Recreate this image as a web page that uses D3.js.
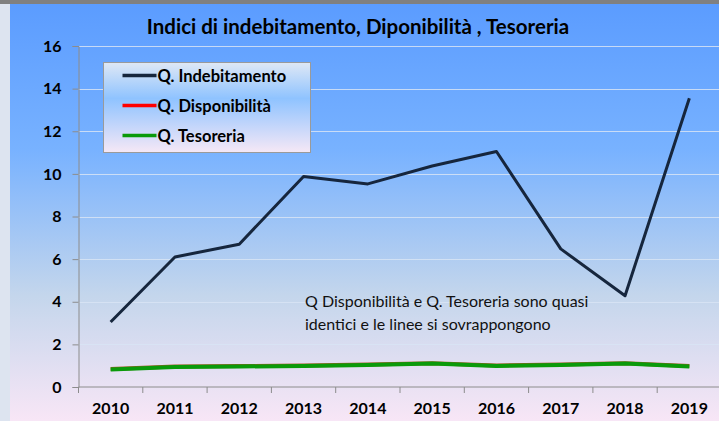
<!DOCTYPE html>
<html>
<head>
<meta charset="utf-8">
<script src="https://d3js.org/d3.v7.min.js"></script>
<style>
  body { margin: 0; background: #dde4f0; }
  svg { display: block; }
  text { font-family: Lato, "Noto Sans", sans-serif; }
</style>
</head>
<body>
<script>

var years = ["2010","2011","2012","2013","2014","2015","2016","2017","2018","2019"];
var indebitamento = [3.05, 6.1, 6.7, 9.88, 9.53, 10.37, 11.05, 6.48, 4.28, 13.55];
var disponibilita = [0.84, 0.96, 0.98, 1.01, 1.05, 1.12, 1.01, 1.05, 1.12, 0.98];
var tesoreria     = [0.82, 0.94, 0.96, 0.99, 1.03, 1.10, 0.99, 1.03, 1.10, 0.96];
var yTicks = [0, 2, 4, 6, 8, 10, 12, 14, 16];

var seriesNames  = ["Q. Indebitamento", "Q. Disponibilità", "Q. Tesoreria"];
var seriesColors = ["#16263d", "#ff0000", "#0a9a0a"];

var W = 719, H = 421;

var svg = d3.select("body").append("svg")
    .attr("width", W)
    .attr("height", H);

var defs = svg.append("defs");

var bg = defs.append("linearGradient")
    .attr("id", "bg").attr("x1", 0).attr("y1", 0).attr("x2", 0).attr("y2", 1);
bg.append("stop").attr("offset", "0%").attr("stop-color", "#5b9cff");
bg.append("stop").attr("offset", "35%").attr("stop-color", "#78b2ff");
bg.append("stop").attr("offset", "70%").attr("stop-color", "#c4d6ec");
bg.append("stop").attr("offset", "100%").attr("stop-color", "#f8e6f6");

var lg = defs.append("linearGradient")
    .attr("id", "lg").attr("x1", 0).attr("y1", 0).attr("x2", 0).attr("y2", 1);
lg.append("stop").attr("offset", "0%").attr("stop-color", "#dfe8f5");
lg.append("stop").attr("offset", "40%").attr("stop-color", "#8fc3ff");
lg.append("stop").attr("offset", "100%").attr("stop-color", "#f6e8f6");

// frame
svg.append("rect").attr("x", 0).attr("y", 0).attr("width", W).attr("height", H).attr("fill", "#dde4f0");
svg.append("rect").attr("x", 10).attr("y", 4).attr("width", W - 10).attr("height", H - 4).attr("fill", "url(#bg)");
svg.append("rect").attr("x", 0).attr("y", 0).attr("width", W).attr("height", 4).attr("fill", "#808080");

var plotL = 78.5, plotR = 721.5, plotT = 46, plotB = 387;

var x = d3.scaleBand().domain(years).range([plotL, plotR]);
var y = d3.scaleLinear().domain([0, 16]).range([plotB, plotT]);

// gridlines
svg.append("g")
    .selectAll("line")
    .data(yTicks.filter(d => d > 0))
    .enter().append("line")
    .attr("x1", plotL).attr("x2", W)
    .attr("y1", d => Math.round(y(d)) + 0.5)
    .attr("y2", d => Math.round(y(d)) + 0.5)
    .attr("stroke", "#d8e4f4")
    .attr("stroke-opacity", 0.85)
    .attr("stroke-width", 1);

// axes
var yAxis = svg.append("g")
    .attr("transform", `translate(${plotL},0)`)
    .call(d3.axisLeft(y).tickValues(yTicks).tickSize(6).tickPadding(11));
yAxis.select(".domain").attr("stroke", "#8c8c8c");
yAxis.selectAll(".tick line").attr("stroke", "#8c8c8c");
yAxis.selectAll("text")
    .attr("font-size", 16).attr("font-weight", "bold").attr("fill", "#000")
    .style("font-family", "Lato, sans-serif");

var xAxis = svg.append("g")
    .attr("transform", `translate(0,${plotB})`)
    .call(d3.axisBottom(x).tickSize(0).tickPadding(16));
xAxis.select(".domain").attr("stroke", "#8c8c8c").attr("d", `M${plotL},0H${W}`);
xAxis.selectAll("text")
    .attr("font-size", 16).attr("font-weight", "bold").attr("fill", "#000")
    .style("font-family", "Lato, sans-serif");

// category ticks at band edges
svg.append("g")
    .selectAll("line")
    .data(years)
    .enter().append("line")
    .attr("x1", d => x(d)).attr("x2", d => x(d))
    .attr("y1", plotB).attr("y2", plotB + 6)
    .attr("stroke", "#8c8c8c");

var line = d3.line()
    .x((d, i) => x(years[i]) + x.bandwidth() / 2)
    .y(d => y(d));

svg.append("path").datum(disponibilita)
    .attr("d", line).attr("fill", "none")
    .attr("stroke", "#a05a20").attr("stroke-width", 4).attr("stroke-linejoin", "round");
svg.append("path").datum(tesoreria)
    .attr("d", line).attr("fill", "none")
    .attr("stroke", seriesColors[2]).attr("stroke-width", 4).attr("stroke-linejoin", "round");
svg.append("path").datum(indebitamento)
    .attr("d", line).attr("fill", "none")
    .attr("stroke", seriesColors[0]).attr("stroke-width", 3).attr("stroke-linejoin", "round");

// title
svg.append("text")
    .attr("x", 358).attr("y", 34)
    .attr("text-anchor", "middle")
    .attr("font-size", 20.5).attr("font-weight", "bold").attr("fill", "#000")
    .text("Indici di indebitamento, Diponibilità , Tesoreria");

// legend
var legend = svg.append("g").attr("transform", "translate(103.5,62.5)");
legend.append("rect")
    .attr("width", 207).attr("height", 90)
    .attr("fill", "url(#lg)")
    .attr("stroke", "#9a9a9a");

var items = legend.selectAll(".item")
    .data(seriesNames)
    .enter().append("g")
    .attr("transform", (d, i) => `translate(0,${13 + i * 30})`);
items.append("line")
    .attr("x1", 19).attr("x2", 53)
    .attr("stroke", (d, i) => seriesColors[i])
    .attr("stroke-width", 3.5);
items.append("text")
    .attr("x", 54).attr("y", 6)
    .attr("font-size", 16.5).attr("font-weight", "bold").attr("fill", "#000")
    .text(d => d);

// note
var note = svg.append("text")
    .attr("font-size", 16).attr("fill", "#111");
note.append("tspan").attr("x", 305).attr("y", 307).text("Q Disponibilità e Q. Tesoreria sono quasi");
note.append("tspan").attr("x", 305).attr("y", 330).text("identici e le linee si sovrappongono");

</script>
</body>
</html>
